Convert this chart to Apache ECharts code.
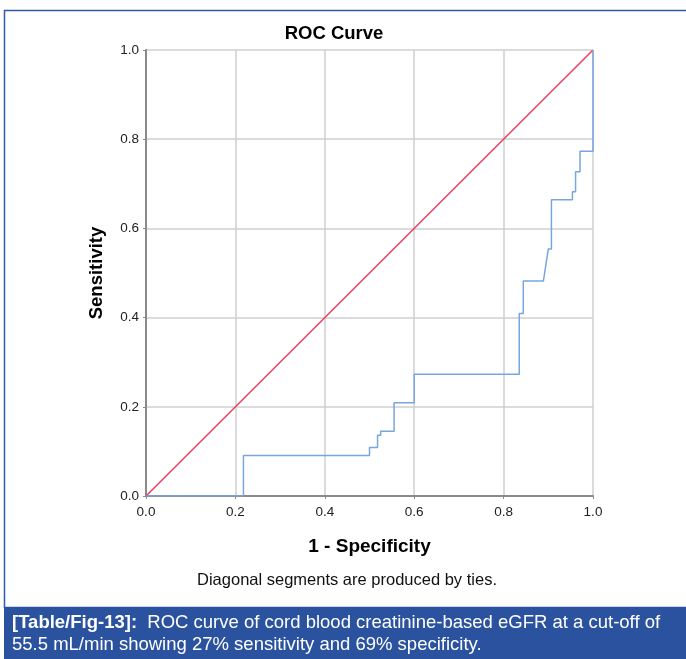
<!DOCTYPE html>
<html>
<head>
<meta charset="utf-8">
<script src="https://cdn.jsdelivr.net/npm/echarts@6/dist/echarts.min.js"></script>
<style>
html,body{margin:0;padding:0;background:#fff;}
#c{width:686px;height:659px;}
</style>
</head>
<body>
<div id="c"></div>
<script>
// ROC curve points
var oneMinusSpecificity = [0, 0.218, 0.218, 0.5, 0.5, 0.518, 0.518, 0.525, 0.525, 0.555, 0.555, 0.6, 0.6, 0.835, 0.835, 0.844, 0.844, 0.889, 0.9, 0.907, 0.907, 0.954, 0.954, 0.961, 0.961, 0.971, 0.971, 1, 1];
var sensitivity =        [0, 0, 0.091, 0.091, 0.109, 0.109, 0.136, 0.136, 0.145, 0.145, 0.209, 0.209, 0.273, 0.273, 0.409, 0.409, 0.482, 0.482, 0.554, 0.554, 0.664, 0.664, 0.682, 0.682, 0.727, 0.727, 0.773, 0.773, 1];
var referenceX = [0, 1];
var referenceY = [0, 1];
var tickValues = [0, 0.2, 0.4, 0.6, 0.8, 1.0];

var title = 'ROC Curve';
var xName = '1 - Specificity';
var yName = 'Sensitivity';
var note = 'Diagonal segments are produced by ties.';
var captionBold = '[Table/Fig-13]:';
var captionLine1 = '  ROC curve of cord blood creatinine-based eGFR at a cut-off of';
var captionLine2 = '55.5 mL/min showing 27% sensitivity and 69% specificity.';

var rocData = oneMinusSpecificity.map(function (x, i) { return [x, sensitivity[i]]; });
var refData = referenceX.map(function (x, i) { return [x, referenceY[i]]; });

var FONT = 'Liberation Sans, Arial, sans-serif';
var chart = echarts.init(document.getElementById('c'), null, {renderer: 'canvas'});
chart.setOption({
  animation: false,
  backgroundColor: '#ffffff',
  graphic: [
    {type: 'rect', z: -10, shape: {x: 4.5, y: 10.5, width: 700, height: 597},
      style: {fill: 'none', stroke: '#2f5aa8', lineWidth: 1.5}},
    {type: 'text', z: 10, x: 334, y: 24,
      style: {text: title, fontFamily: FONT, fontSize: 18.5, fontWeight: 'bold', fill: '#000', textAlign: 'center'}},
    {type: 'text', z: 10, x: 347, y: 572,
      style: {text: note, fontFamily: FONT, fontSize: 16.5, fill: '#111', textAlign: 'center'}},
    {type: 'rect', z: 5, shape: {x: 4, y: 607, width: 700, height: 52},
      style: {fill: '#2a529e'}},
    {type: 'text', z: 10, x: 12, y: 612,
      style: {
        text: '{b|' + captionBold + '}{n|' + captionLine1 + '}\n{n|' + captionLine2 + '}',
        rich: {
          b: {fontFamily: FONT, fontSize: 18.5, fontWeight: 'bold', fill: '#fff', lineHeight: 22},
          n: {fontFamily: FONT, fontSize: 18.5, fill: '#fff', lineHeight: 22}
        }
      }}
  ],
  grid: {left: 146, right: 93, top: 50, bottom: 163, containLabel: false},
  xAxis: {
    type: 'value', min: 0, max: 1, interval: 0.2,
    name: xName, nameLocation: 'middle', nameGap: 41,
    nameTextStyle: {fontFamily: FONT, fontSize: 19, fontWeight: 'bold', color: '#000'},
    axisLine: {lineStyle: {color: '#8a8a8a', width: 2}},
    axisTick: {show: true, length: 3, lineStyle: {color: '#8a8a8a'}},
    axisLabel: {fontFamily: FONT, fontSize: 13.5, color: '#222', margin: 9,
      formatter: function (v) { return v.toFixed(1); }},
    splitLine: {show: true, lineStyle: {color: '#cfcfcf', width: 1.5}}
  },
  yAxis: {
    type: 'value', min: 0, max: 1, interval: 0.2,
    name: yName, nameLocation: 'middle', nameGap: 40, nameRotate: 90,
    nameTextStyle: {fontFamily: FONT, fontSize: 18.5, fontWeight: 'bold', color: '#000'},
    axisLine: {lineStyle: {color: '#8a8a8a', width: 2}},
    axisTick: {show: true, length: 3, lineStyle: {color: '#8a8a8a'}},
    axisLabel: {fontFamily: FONT, fontSize: 13.5, color: '#222', margin: 7,
      formatter: function (v) { return v.toFixed(1); }},
    splitLine: {show: true, lineStyle: {color: '#cfcfcf', width: 1.5}}
  },
  series: [
    {
      type: 'line', data: refData, symbol: 'none', z: 3,
      lineStyle: {color: '#e8405f', width: 1.5}
    },
    {
      type: 'line', data: rocData, symbol: 'none', z: 4,
      lineStyle: {color: '#78a6de', width: 1.5}
    }
  ]
});
</script>
</body>
</html>
